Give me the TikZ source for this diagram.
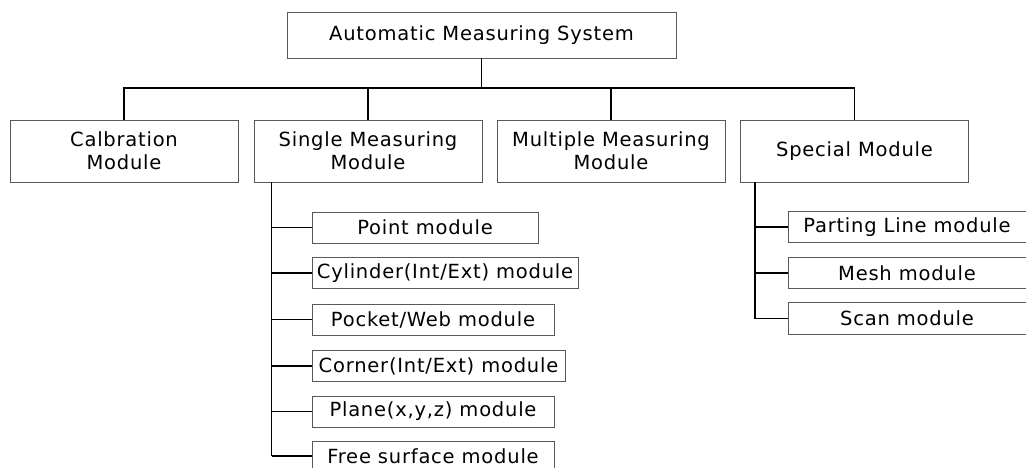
\documentclass[tikz,border=0pt]{standalone}
\usepackage{fontspec}
\setmainfont{DejaVu Sans}[LetterSpace=4]
\begin{document}
\begin{tikzpicture}[x=1pt,y=-1pt,
  box/.style={draw=black!65, line width=0.8pt, inner sep=0pt, align=center,
    font=\fontsize{19.5}{23}\selectfont},
  lvl/.style={box, minimum width=228pt, minimum height=62pt},
  sub/.style={box, minimum height=31pt},
  link/.style={draw=black, line width=1.3pt}]
\useasboundingbox (0,0) rectangle (1026,467);
\fill[white] (0,0) rectangle (1026,467);
% root
\node[box, minimum width=389pt, minimum height=46pt] (top) at (481.5,35) {Automatic Measuring System};
% level 2
\node[lvl] (cal)    at (124,151)   {Calbration\\Module};
\node[lvl] (single) at (368,151)   {Single Measuring\\Module};
\node[lvl] (multi)  at (611,151)   {Multiple Measuring\\Module};
\node[lvl] (spec)   at (854.5,151) {Special Module};
% bus
\coordinate (bus) at (480,88);
\draw[link] (top.south) -- (top.south |- bus);
\draw[link] (cal.north) |- (spec.north |- bus) -- (spec.north);
\draw[link] (single.north) -- (single.north |- bus);
\draw[link] (multi.north) -- (multi.north |- bus);
% single children
\node[sub, minimum width=226pt] (point)  at (425,227.5) {Point module};
\node[sub, minimum width=266pt] (cyl)    at (445,273)   {Cylinder(Int/Ext) module};
\node[sub, minimum width=242pt] (pocket) at (433,319.5) {Pocket/Web module};
\node[sub, minimum width=253pt] (corner) at (438.5,366) {Corner(Int/Ext) module};
\node[sub, minimum width=242pt] (plane)  at (433,411.5) {Plane(x,y,z) module};
\node[sub, minimum width=242pt, minimum height=30pt] (free) at (433,456) {Free surface module};
\coordinate (s0) at ([xshift=18pt]single.south west);
\draw[link] (s0) -- (s0 |- free.west);
\foreach \n in {point,cyl,pocket,corner,plane,free}
  \draw[link] (s0 |- \n.west) -- (\n.west);
% special children
\node[sub, minimum width=238pt] (parting) at (907,227)   {Parting Line module};
\node[sub, minimum width=238pt] (mesh)    at (907,273)   {Mesh module};
\node[sub, minimum width=238pt, minimum height=32pt] (scan) at (907,318.5) {Scan module};
\coordinate (p0) at ([xshift=15pt]spec.south west);
\draw[link] (p0) -- (p0 |- scan.west);
\foreach \n in {parting,mesh,scan}
  \draw[link] (p0 |- \n.west) -- (\n.west);
\end{tikzpicture}
\end{document}
